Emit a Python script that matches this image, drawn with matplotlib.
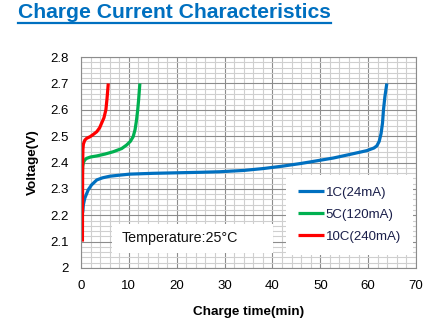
import matplotlib
matplotlib.use('Agg')
import matplotlib.pyplot as plt
from matplotlib.patches import Rectangle
from matplotlib.ticker import MultipleLocator

plt.rcParams['font.family'] = ['Liberation Sans', 'DejaVu Sans']

BLUE = '#0070C0'
GREEN = '#00B050'
RED = '#FF0000'

# 1C (24mA)
t_1c = [0.35, 0.5, 0.8, 1.5, 2.2, 3.3, 4.5, 6, 8, 10.2, 15, 20, 25, 29, 34, 38,
        42, 45.8, 47.8, 52.7, 56, 59.7, 61.2, 61.8, 62.3, 62.7, 63.0, 63.2, 63.5, 63.9]
v_1c = [2.21, 2.24, 2.265, 2.296, 2.315, 2.334, 2.342, 2.348, 2.352, 2.356, 2.359,
        2.361, 2.363, 2.365, 2.370, 2.377, 2.386, 2.396, 2.402, 2.417, 2.43, 2.445,
        2.455, 2.463, 2.48, 2.51, 2.55, 2.60, 2.65, 2.70]

# 5C (120mA)
t_5c = [0.3, 0.35, 0.5, 0.8, 1.2, 2.0, 3.3, 5, 6.75, 8.5, 9.5, 10.3, 10.9, 11.3,
        11.6, 11.85, 12.05, 12.3]
v_5c = [2.36, 2.385, 2.40, 2.41, 2.416, 2.421, 2.425, 2.432, 2.441, 2.453, 2.466,
        2.48, 2.498, 2.525, 2.561, 2.60, 2.64, 2.70]

# 10C (240mA)
t_10c = [0.3, 0.32, 0.35, 0.4, 0.5, 0.8, 1.2, 1.9, 2.6, 3.3, 3.9, 4.3, 4.8, 5.2,
         5.45, 5.7]
v_10c = [2.10, 2.25, 2.40, 2.45, 2.47, 2.485, 2.492, 2.498, 2.507, 2.517, 2.532,
         2.549, 2.57, 2.60, 2.645, 2.70]

labels = ['1C(24mA)', '5C(120mA)', '10C(240mA)']

fig = plt.figure(figsize=(4.32, 3.3), dpi=100)
ax = fig.add_axes([0.1875, 0.188, 0.7755, 0.639])

ax.plot(t_1c, v_1c, color=BLUE, lw=2.3, label=labels[0], solid_capstyle='butt')
ax.plot(t_5c, v_5c, color=GREEN, lw=2.3, label=labels[1], solid_capstyle='butt')
ax.plot(t_10c, v_10c, color=RED, lw=2.3, label=labels[2], solid_capstyle='butt')

ax.set_xlim(0, 70)
ax.set_ylim(2.0, 2.8)
ax.xaxis.set_major_locator(MultipleLocator(10))
ax.xaxis.set_minor_locator(MultipleLocator(2))
ax.yaxis.set_minor_locator(MultipleLocator(0.02))
ax.set_yticks([2.0, 2.1, 2.2, 2.3, 2.4, 2.5, 2.6, 2.7, 2.8])
ax.set_yticklabels(['2', '2.1', '2.2', '2.3', '2.4', '2.5', '2.6', '2.7', '2.8'])

ax.grid(which='major', color='#8C8C8C', lw=0.8)
ax.grid(which='minor', color='#CFCFCF', lw=0.8)
ax.set_axisbelow(True)
ax.tick_params(which='both', length=0, labelsize=9.5, pad=9)
for s in ax.spines.values():
    s.set_color('#8C8C8C')
    s.set_linewidth(0.8)

ax.set_xlabel('Charge time(min)', fontsize=9.7, fontweight='bold', labelpad=10)
ax.set_ylabel('Voltage(V)', fontsize=9.7, fontweight='bold', labelpad=8)

leg = ax.legend(loc='lower right', bbox_to_anchor=(0.991, 0.062), borderaxespad=0,
                frameon=True, fancybox=False, fontsize=9.5, handlelength=2.0,
                handletextpad=0.15, labelspacing=0.75, borderpad=0.9,
                labelcolor='#1A1F4A')
leg.get_frame().set_edgecolor('none')
leg.get_frame().set_facecolor('white')
leg.get_frame().set_alpha(1)

# temperature note on a white panel
ax.add_patch(Rectangle((0.0916, 0.0725), 0.481, 0.136, transform=ax.transAxes,
                       facecolor='white', edgecolor='none', zorder=3))
ax.text(0.121, 0.14, 'Temperature:25°C', transform=ax.transAxes, fontsize=10.3,
        va='center', ha='left', color='#111111', zorder=4)

# underlined heading
title = fig.text(0.042, 0.945, 'Charge Current Characteristics', fontsize=15.2,
                 fontweight='bold', color=BLUE, va='baseline', ha='left')
fig.canvas.draw()
bb = title.get_window_extent().transformed(fig.transFigure.inverted())
fig.add_artist(plt.Line2D([bb.x0, bb.x1], [0.931, 0.931], transform=fig.transFigure,
                          color=BLUE, lw=1.6))

fig.savefig('out.png', dpi=100)
